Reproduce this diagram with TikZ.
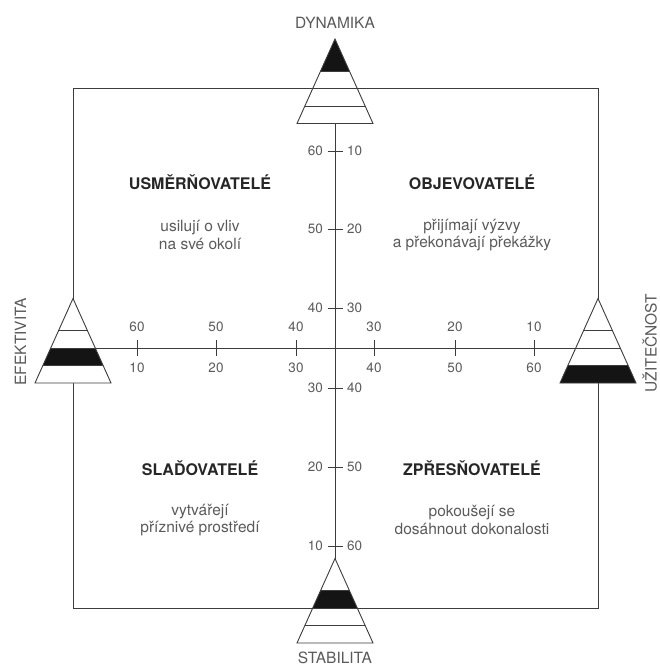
\documentclass[tikz,border=0pt]{standalone}
\usepackage{fontspec}
\setmainfont{TeX Gyre Heros}
\definecolor{linegray}{HTML}{3C3C3C}
\definecolor{textgray}{HTML}{5A5A5A}
\definecolor{titlegray}{HTML}{262626}
\definecolor{bandblack}{HTML}{141414}

% pyramid with apex at (#1,#2); band #3 (1 = top ... 4 = bottom) is filled black
\newcommand\pyramidat[3]{%
  \begin{scope}[shift={(#1,#2)}]
    \fill[white] (0,0) -- (38,84.5) -- (-38,84.5) -- cycle;
    \ifcase#3\or
      \fill[bandblack] (0,0) -- ({32*0.4497},32) -- ({-32*0.4497},32) -- cycle;
    \or
      \fill[bandblack] ({-32*0.4497},32) -- ({32*0.4497},32) -- ({49.5*0.4497},49.5) -- ({-49.5*0.4497},49.5) -- cycle;
    \or
      \fill[bandblack] ({-49.5*0.4497},49.5) -- ({49.5*0.4497},49.5) -- ({67*0.4497},67) -- ({-67*0.4497},67) -- cycle;
    \or
      \fill[bandblack] ({-67*0.4497},67) -- ({67*0.4497},67) -- (38,84.5) -- (-38,84.5) -- cycle;
    \fi
    \foreach \lv in {32,49.5,67}
      \draw[axisline] ({-\lv*0.4497},\lv) -- ({\lv*0.4497},\lv);
    \draw[axisline, line join=miter] (0,0) -- (38,84.5) -- (-38,84.5) -- cycle;
  \end{scope}}

\begin{document}
\begin{tikzpicture}[x=1pt,y=-1pt,
  axisline/.style={draw=linegray, line width=0.9pt},
  tickmark/.style={draw=linegray, line width=0.9pt},
  ticknum/.style={text=textgray, font=\fontsize{13.5}{15}\selectfont, inner sep=0pt},
  axislabel/.style={text=textgray, font=\fontsize{15.5}{17}\selectfont, inner sep=0pt},
  quadtitle/.style={text=titlegray, font=\fontsize{16}{18}\selectfont\bfseries, inner sep=0pt},
  quadtext/.style={text=textgray, font=\fontsize{15.5}{17.5}\selectfont, align=center, inner sep=0pt}]

\useasboundingbox (0,0) rectangle (659,667);

% frame corners and axis ends
\coordinate (tl) at (73,88);
\coordinate (tr) at (598,88);
\coordinate (bl) at (73,608);
\coordinate (br) at (598,608);
\coordinate (top) at (335,100);
\coordinate (bottom) at (335,600);
\coordinate (left) at (85,348);
\coordinate (right) at (590,348);

% frame and axes
\draw[axisline] (tl) -- (tr) -- (br) -- (bl) -- cycle;
\draw[axisline] (top) -- (bottom);
\draw[axisline] (left) -- (right);

% ticks on the vertical axis
\foreach \y/\l/\r [count=\i] in {151/60/10, 229/50/20, 308/40/30, 388/30/40, 467/20/50, 546/10/60} {
  \draw[tickmark] (327.5,\y) -- (342.5,\y);
  \node[ticknum, anchor=east] (vl\i) at (323,\y) {\l};
  \node[ticknum, anchor=west] (vr\i) at (347,\y) {\r};
}
% ticks on the horizontal axis
\foreach \x/\u/\d [count=\i] in {137/60/10, 216/50/20, 296/40/30, 374/30/40, 455/20/50, 534/10/60} {
  \draw[tickmark] (\x,340) -- (\x,356);
  \node[ticknum] (hu\i) at (\x,327) {\u};
  \node[ticknum] (hd\i) at (\x,368) {\d};
}

% the four pyramids
\pyramidat{335}{39}{1}
\pyramidat{73}{298.5}{3}
\pyramidat{598}{298.5}{4}
\pyramidat{335}{558.5}{2}

% axis labels
\node[axislabel, anchor=base] (dyn) at (335,28.5) {DYNAMIKA};
\node[axislabel, anchor=base] (stab) at (335,663) {STABILITA};
\node[axislabel, rotate=90, anchor=base] (efe) at (26,342) {EFEKTIVITA};
\node[axislabel, rotate=90, anchor=base] (uzi) at (656.5,343) {UŽITEČNOST};

% quadrant texts
\node[quadtitle, anchor=base] (q1t) at (200,189.5) {USMĚRŇOVATELÉ};
\node[quadtext] (q1b) at (200,235) {usilují o vliv\\na své okolí};
\node[quadtitle, anchor=base] (q2t) at (472,189.5) {OBJEVOVATELÉ};
\node[quadtext] (q2b) at (472,235) {přijímají výzvy\\a překonávají překážky};
\node[quadtitle, anchor=base] (q3t) at (200,475) {SLAĎOVATELÉ};
\node[quadtext] (q3b) at (200,520) {vytvářejí\\příznivé prostředí};
\node[quadtitle, anchor=base] (q4t) at (472,475) {ZPŘESŇOVATELÉ};
\node[quadtext] (q4b) at (472,520) {pokoušejí se\\dosáhnout dokonalosti};
\end{tikzpicture}
\end{document}
